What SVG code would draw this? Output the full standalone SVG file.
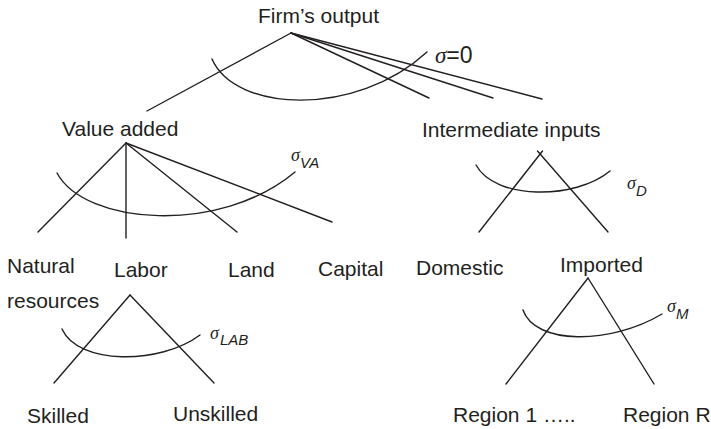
<svg xmlns="http://www.w3.org/2000/svg" width="711" height="429" viewBox="0 0 711 429">
  <style>
    .lbl { font-family: "Liberation Sans", Arial, sans-serif; font-size: 21px; fill: #231f20; }
    .edge { stroke: #231f20; stroke-width: 1.4; fill: none; stroke-linecap: round; }
    .sig { font-family: "Liberation Serif", "Times New Roman", serif; font-style: italic; font-size: 18px; fill: #231f20; }
    .sig0 { font-family: "Liberation Serif", "Times New Roman", serif; font-style: italic; font-size: 23px; fill: #231f20; }
    .sub { font-family: "Liberation Sans", Arial, sans-serif; font-style: italic; font-size: 15px; fill: #231f20; }
    .eq { font-family: "Liberation Sans", Arial, sans-serif; font-size: 23px; fill: #231f20; }
  </style>
  <rect width="711" height="429" fill="#ffffff"/>

  <!-- nests: branching lines -->
  <g id="connectors" class="edge">
    <!-- top nest -->
    <line x1="291" y1="33" x2="147" y2="111"/>
    <line x1="291" y1="33" x2="429" y2="98"/>
    <line x1="291" y1="33" x2="493" y2="98"/>
    <line x1="291" y1="33" x2="542" y2="99"/>
    <!-- value added nest -->
    <line x1="126" y1="143" x2="38" y2="232"/>
    <line x1="126" y1="143" x2="126" y2="238"/>
    <line x1="126" y1="143" x2="237" y2="232"/>
    <line x1="126" y1="143" x2="332" y2="222"/>
    <!-- intermediate nest -->
    <line x1="542.5" y1="151" x2="479" y2="232"/>
    <line x1="537.5" y1="151" x2="608" y2="232"/>
    <!-- labor nest -->
    <line x1="130" y1="295" x2="54" y2="383"/>
    <line x1="130" y1="295" x2="214" y2="383"/>
    <!-- imported nest -->
    <line x1="588" y1="278" x2="506" y2="384"/>
    <line x1="588" y1="278" x2="654" y2="384"/>
  </g>

  <!-- substitution elasticities -->
  <g id="elasticities">
    <path class="edge" d="M212,59 C235,112 355,118 427,52"/>
    <text x="435" y="63"><tspan class="sig0">σ</tspan><tspan class="eq">=0</tspan></text>

    <path class="edge" d="M57,173 C85,225 220,235 295,172"/>
    <text x="291" y="161" class="sig">σ</text>
    <text x="300" y="168" class="sub">VA</text>

    <path class="edge" d="M476,165 C495,200 575,200 610,171"/>
    <text x="627" y="189" class="sig">σ</text>
    <text x="636" y="196" class="sub">D</text>

    <path class="edge" d="M62,329 C78,365 160,365 200,335"/>
    <text x="210" y="339" class="sig">σ</text>
    <text x="220" y="345" class="sub">LAB</text>

    <path class="edge" d="M523,310 C535,345 610,345 662,314"/>
    <text x="667" y="312" class="sig">σ</text>
    <text x="676" y="319" class="sub">M</text>
  </g>

  <g id="firm-output"><text class="lbl" x="258" y="23">Firm’s output</text></g>
  <g id="value-added"><text class="lbl" x="62" y="136">Value added</text></g>
  <g id="intermediate-inputs"><text class="lbl" x="422" y="137">Intermediate inputs</text></g>
  <g id="natural-resources">
    <text class="lbl" x="7" y="273">Natural</text>
    <text class="lbl" x="7" y="308">resources</text>
  </g>
  <g id="labor"><text class="lbl" x="114" y="277">Labor</text></g>
  <g id="land"><text class="lbl" x="228" y="277">Land</text></g>
  <g id="capital"><text class="lbl" x="318" y="276">Capital</text></g>
  <g id="domestic"><text class="lbl" x="416" y="275">Domestic</text></g>
  <g id="imported"><text class="lbl" x="560" y="272">Imported</text></g>
  <g id="skilled"><text class="lbl" x="27" y="423">Skilled</text></g>
  <g id="unskilled"><text class="lbl" x="173" y="421">Unskilled</text></g>
  <g id="region-1"><text class="lbl" x="453" y="422">Region 1 …..</text></g>
  <g id="region-r"><text class="lbl" x="623" y="422">Region R</text></g>
</svg>
